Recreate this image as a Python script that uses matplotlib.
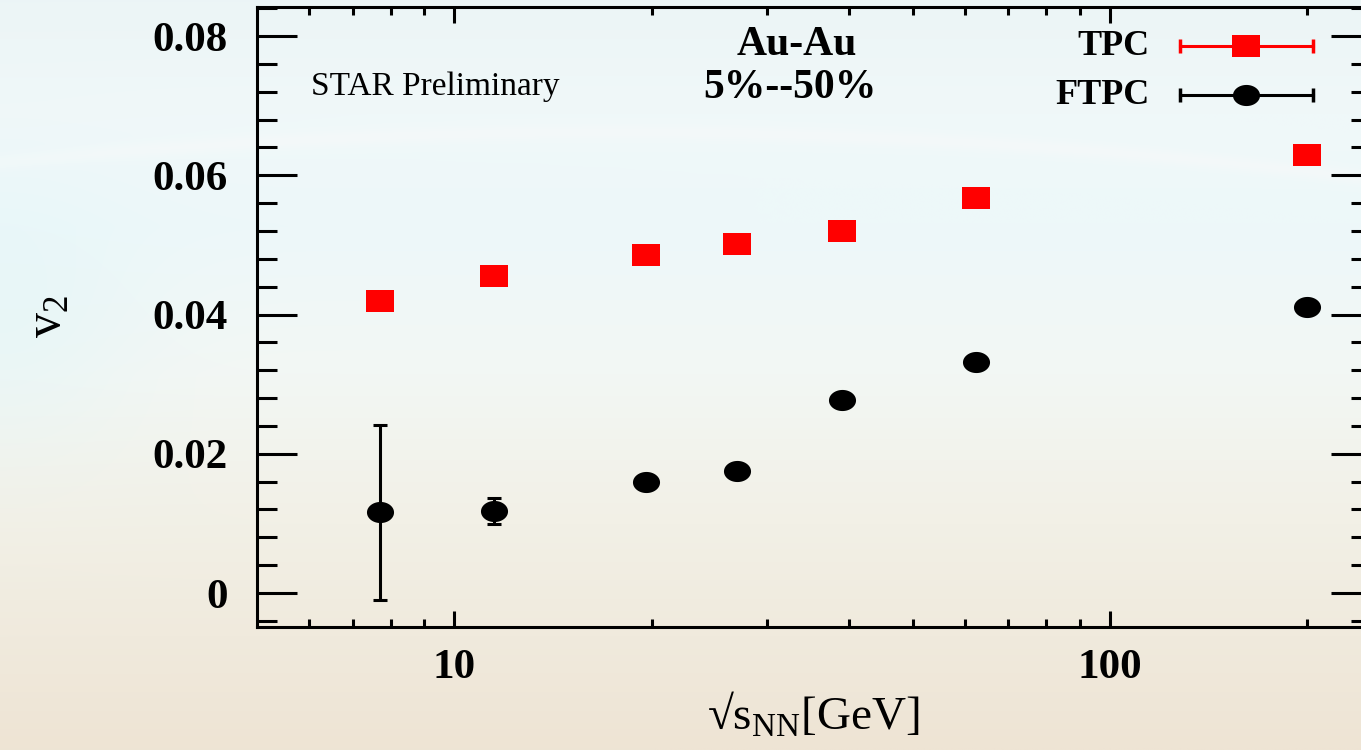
import numpy as np
import matplotlib
matplotlib.use("Agg")
import matplotlib.pyplot as plt
from matplotlib.ticker import FixedLocator, NullFormatter, MultipleLocator

# data
energy = [7.7, 11.5, 19.6, 27, 39, 62.4, 200]
v2_tpc = [0.0419, 0.0455, 0.0486, 0.0501, 0.0520, 0.0567, 0.0629]
v2_tpc_err = [0.0003, 0.0003, 0.0003, 0.0003, 0.0003, 0.0003, 0.0003]
v2_ftpc = [0.0116, 0.0118, 0.0159, 0.0175, 0.0277, 0.0332, 0.0411]
v2_ftpc_err = [0.0126, 0.0019, 0.0006, 0.0006, 0.0005, 0.0005, 0.0004]

xticks = [10, 100]
xtick_labels = ['10', '100']
xminor = [6, 7, 8, 9, 20, 30, 40, 50, 60, 70, 80, 90, 200]
yticks = [0, 0.02, 0.04, 0.06, 0.08]
ytick_labels = ['0', '0.02', '0.04', '0.06', '0.08']

plt.rcParams['font.family'] = ['Liberation Serif', 'DejaVu Serif']
plt.rcParams['mathtext.fontset'] = 'custom'
plt.rcParams['mathtext.rm'] = 'Liberation Serif'

fig = plt.figure(figsize=(13.61, 7.5), dpi=100)

# background gradient (slide style)
H, W = 200, 300
yy, xx = np.mgrid[0:1:H * 1j, 0:1:W * 1j]
arc = 0.175 + 0.06 * ((xx - 0.45) / 0.55) ** 2
stops = [0.0, 0.15, 0.3, 0.5, 0.7, 1.0]
cols = np.array([[236, 245, 246], [240, 248, 249], [237, 248, 250],
                 [243, 247, 244], [242, 240, 230], [238, 228, 212]]) / 255.0
img = np.zeros((H, W, 3))
for c in range(3):
    img[..., c] = np.interp(yy, stops, cols[:, c])
band = np.exp(-((yy - arc) / 0.01) ** 2)[..., None]
img = img * (1 - 0.5 * band) + 0.5 * band * np.array([0.975, 0.98, 0.98])
left = np.exp(-(xx / 0.1) ** 2)[..., None] * np.exp(-((yy - 0.42) / 0.18) ** 2)[..., None]
img = img * (1 - 0.5 * left) + 0.5 * left * np.array([0.88, 0.96, 0.97])
img = np.clip(img, 0, 1)
bg = fig.add_axes([0, 0, 1, 1], zorder=-1)
bg.imshow(img, aspect='auto', extent=[0, 1, 0, 1], interpolation='bilinear')
bg.axis('off')

ax = fig.add_axes([0.1888, 0.164, 0.8185, 0.8267])
ax.set_facecolor('none')
ax.set_xscale('log')
ax.set_xlim(5, 250)
ax.set_ylim(-0.00488, 0.08417)

sq = [(-1, -0.81), (1, -0.81), (1, 0.81), (-1, 0.81), (-1, -0.81)]
t = np.linspace(0, 2 * np.pi, 60)
ell = list(zip(np.cos(t), 0.78 * np.sin(t)))

ax.errorbar(energy, v2_tpc, yerr=v2_tpc_err, fmt='none', ecolor='red',
            elinewidth=2.2, capsize=5, capthick=2.2, zorder=2)
ax.plot(energy, v2_tpc, linestyle='none', marker=sq, markersize=19.5,
        color='red', markeredgewidth=0, zorder=3)
ax.errorbar(energy, v2_ftpc, yerr=v2_ftpc_err, fmt='none', ecolor='black',
            elinewidth=2.2, capsize=5, capthick=2.2, zorder=2)
ax.plot(energy, v2_ftpc, linestyle='none', marker=ell, markersize=19.5,
        color='black', markeredgewidth=0, zorder=3)

# axes styling
for s in ax.spines.values():
    s.set_linewidth(2.2)
ax.xaxis.set_major_locator(FixedLocator(xticks))
ax.set_xticklabels(xtick_labels)
ax.xaxis.set_minor_locator(FixedLocator(xminor))
ax.xaxis.set_minor_formatter(NullFormatter())
ax.yaxis.set_major_locator(FixedLocator(yticks))
ax.set_yticklabels(ytick_labels)
ax.yaxis.set_minor_locator(MultipleLocator(0.004))
ax.tick_params(axis='both', which='both', direction='in', top=True, right=True,
               width=2.2, labelsize=31)
ax.tick_params(axis='y', which='major', length=29, pad=21)
ax.tick_params(axis='y', which='minor', length=14.5)
ax.tick_params(axis='x', which='major', length=11.5, pad=16)
ax.tick_params(axis='x', which='minor', length=6)
for lab in ax.get_xticklabels() + ax.get_yticklabels():
    lab.set_fontweight('bold')

ax.set_ylabel('v$_2$', fontsize=36, labelpad=58)
ax.set_xlabel('\u221as$_{\\mathregular{NN}}$[GeV]', fontsize=34, labelpad=2)

# annotations
ax.text(0.0485, 0.871, 'STAR Preliminary', transform=ax.transAxes,
        fontsize=24, ha='left', va='center')
ax.text(0.4847, 0.9387, 'Au-Au', transform=ax.transAxes, fontsize=30,
        fontweight='bold', ha='center', va='center')
ax.text(0.4785, 0.869, '5%--50%', transform=ax.transAxes, fontsize=30,
        fontweight='bold', ha='center', va='center')

# legend drawn by hand (horizontal error-bar style handles)
leg = [('TPC', 'red', sq, 0.937), ('FTPC', 'black', ell, 0.858)]
for name, col, mk, ly in leg:
    ax.plot([0.8286, 0.948], [ly, ly], transform=ax.transAxes, color=col,
            linewidth=2.2, clip_on=False)
    ax.plot([0.8286, 0.948], [ly, ly], transform=ax.transAxes, color=col,
            linestyle='none', marker='|', markersize=10, markeredgewidth=2.5,
            clip_on=False)
    ax.plot([0.888], [ly], transform=ax.transAxes, color=col, marker=mk,
            markersize=19.5, markeredgewidth=0, clip_on=False)
    ax.text(0.8016, ly, name, transform=ax.transAxes, fontsize=26,
            fontweight='bold', ha='right', va='center')

fig.savefig('out.png', dpi=100)
